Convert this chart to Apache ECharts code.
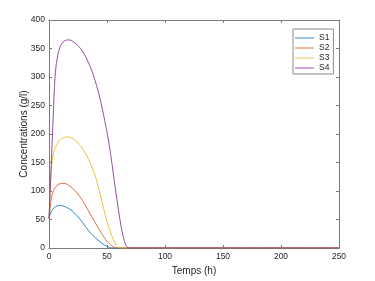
<!DOCTYPE html>
<html>
<head>
<meta charset="utf-8">
<script src="https://cdn.jsdelivr.net/npm/echarts@6/dist/echarts.min.js"></script>
<style>
html,body{margin:0;padding:0;background:#fff;}
#c{width:375px;height:281px;}
</style>
</head>
<body>
<div id="c"></div>
<script>
const time = [0,1,2,3,4,5,6,8,10,12,14,16,18,20,24,28,32,36,40,44,48,50,52,54,56,58,60,62,64,66,68,70,250];
const S1 = [52,59,64,67.5,70,71.5,73,74.3,74.6,73.8,72.3,70.3,68,65.2,57,47,36,26,18,11,5,3,1.2,0.3,0,0,0,0,0,0,0,0,0];
const S2 = [52,72,87,96,101,105,108,111.5,113,113.5,113,111.3,108.7,105.5,97,86,72.5,58,44,30,17,12,7.5,4,1.5,0.3,0,0,0,0,0,0,0];
const S3 = [52,100,138,157,167,174,179,186,190.5,193,194.5,195,194.3,192.5,186,177,164,147,126,95,62,47,34,22,12,4.5,0.8,0,0,0,0,0,0];
const S4 = [52,100,150,200,250,293,318,343,355,361,364,365,365,363,357,348,334,316,292,262,224,203,180,152,122,93,65,40,20,6,0.5,0,0];
const seriesNames = ['S1','S2','S3','S4'];
const seriesValues = [S1,S2,S3,S4];
const colors = ['#0072BD','#D95319','#EDB120','#7E2F8E'];
const xName = 'Temps (h)';
const yName = 'Concentrations (g/l)';

const font = 'Liberation Sans, Arial, sans-serif';
const axisCol = '#7a7a7a';
const txtCol = '#262626';

const chart = echarts.init(document.getElementById('c'), null, {renderer:'canvas'});
const baseX = {type:'value', min:0, max:250, interval:50,
  axisLine:{show:true, onZero:false, lineStyle:{color:axisCol, width:1}},
  axisTick:{show:true, inside:true, length:3, lineStyle:{color:axisCol}},
  splitLine:{show:false}};
const baseY = {type:'value', min:0, max:400, interval:50,
  axisLine:{show:true, onZero:false, lineStyle:{color:axisCol, width:1}},
  axisTick:{show:true, inside:true, length:3, lineStyle:{color:axisCol}},
  splitLine:{show:false}};

chart.setOption({
  animation:false,
  backgroundColor:'#fff',
  grid:{left:49, right:36, top:20, bottom:31, containLabel:false},
  xAxis:[
    Object.assign({}, baseX, {position:'bottom', name:xName, nameLocation:'middle', nameGap:18,
      nameMoveOverlap:false,
      nameTextStyle:{color:txtCol, fontSize:10, fontFamily:font},
      axisLabel:{color:txtCol, fontSize:8.5, fontFamily:font, margin:4}}),
    Object.assign({}, baseX, {position:'top', axisLabel:{show:false}})
  ],
  yAxis:[
    Object.assign({}, baseY, {position:'left', name:yName, nameLocation:'middle', nameGap:20,
      nameMoveOverlap:false,
      nameTextStyle:{color:txtCol, fontSize:10, fontFamily:font},
      axisLabel:{color:txtCol, fontSize:8.5, fontFamily:font, margin:4}}),
    Object.assign({}, baseY, {position:'right', axisLabel:{show:false}})
  ],
  legend:{
    orient:'vertical', left:293, top:29,
    data:seriesNames.map((n,k)=>({name:n, icon:'rect', itemStyle:{color:colors[k], opacity:0.8}})),
    itemWidth:19, itemHeight:1, itemGap:0,
    padding:[4,4,1,2],
    borderColor:'#8a8a8a', borderWidth:1, backgroundColor:'#fff',
    textStyle:{color:txtCol, fontSize:8.5, fontFamily:font, lineHeight:10}
  },
  series: seriesNames.map((n,k)=>({
    name:n, type:'line', xAxisIndex:0, yAxisIndex:0,
    data: time.map((t,i)=>[t, seriesValues[k][i]]),
    symbol:'none', smooth:0.25,
    lineStyle:{color:colors[k], width:1, opacity:0.85},
    itemStyle:{color:colors[k]}
  }))
});
</script>
</body>
</html>
